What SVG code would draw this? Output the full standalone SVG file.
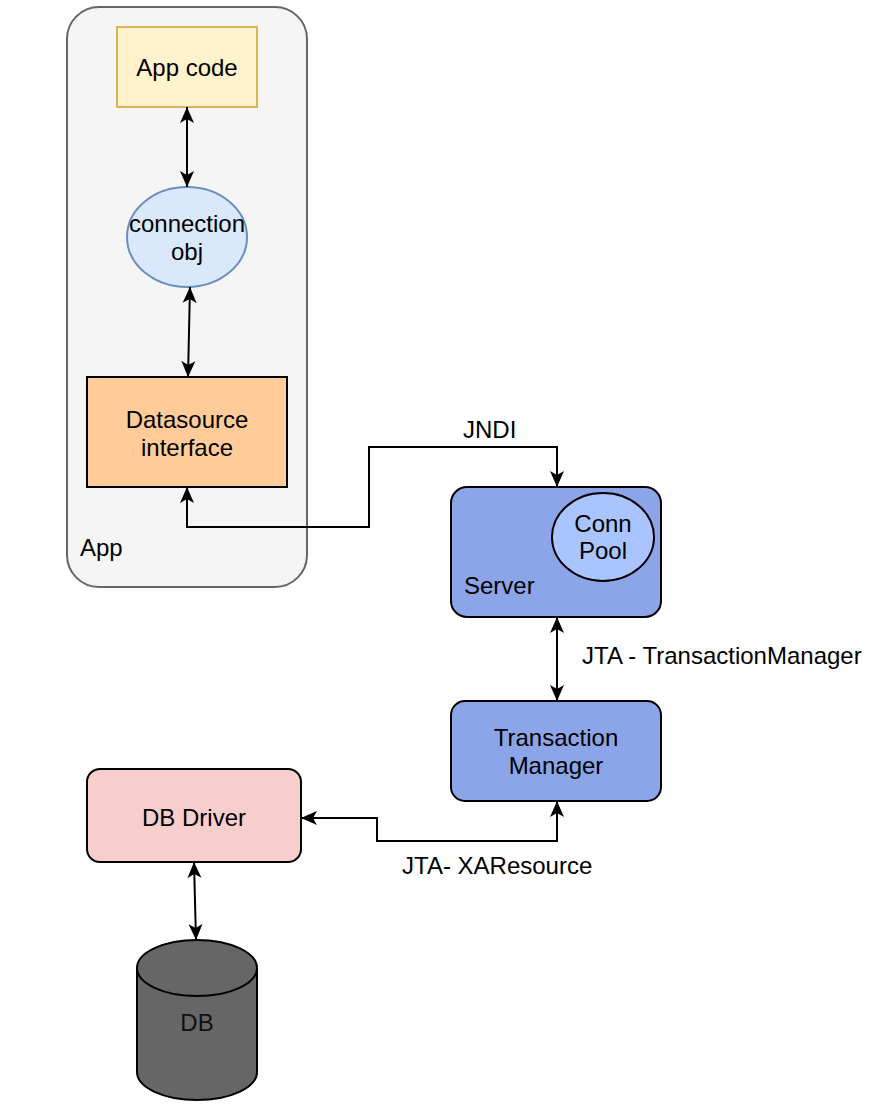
<svg xmlns="http://www.w3.org/2000/svg" width="880" height="1112" viewBox="0 0 880 1112">
<style>
text{font-family:"Liberation Sans",Arial,Helvetica,sans-serif;font-size:24px;fill:#000}
.c{text-anchor:middle}
.n{stroke:#000;stroke-width:2}
.e{fill:none;stroke:#000;stroke-width:2}
</style>
<defs>
<marker id="a" markerUnits="userSpaceOnUse" markerWidth="17" markerHeight="15" refX="16" refY="7.5" orient="auto-start-reverse">
<path d="M0,0.5 L16,7.5 L0,14.5 L4,7.5 z" fill="#000"/>
</marker>
</defs>
<rect width="880" height="1112" fill="#fff"/>
<g id="app">
<rect x="67" y="7" width="240" height="580" rx="32" fill="#f5f5f5" stroke="#666" stroke-width="2"/>
<text x="80" y="556">App</text>
</g>
<g id="appcode">
<rect x="117" y="27" width="140" height="80" fill="#fff2cc" stroke="#d6b656" stroke-width="2"/>
<text class="c" x="187" y="76">App code</text>
</g>
<g id="connobj">
<ellipse cx="187" cy="237" rx="60" ry="50" fill="#dae8fc" stroke="#6c8ebf" stroke-width="2"/>
<text class="c" x="187" y="232">connection</text>
<text class="c" x="187" y="260">obj</text>
</g>
<g id="datasource">
<rect class="n" x="87" y="377" width="200" height="110" fill="#ffcc99"/>
<text class="c" x="187" y="428">Datasource</text>
<text class="c" x="187" y="456">interface</text>
</g>
<g id="server">
<rect class="n" x="451" y="487" width="210" height="130" rx="16" fill="#8ca5e8"/>
<ellipse class="n" cx="603" cy="537" rx="51" ry="44" fill="#a9c4ff"/>
<text class="c" x="603" y="532">Conn</text>
<text class="c" x="603" y="559">Pool</text>
<text x="464" y="594">Server</text>
</g>
<g id="tm">
<rect class="n" x="451" y="701" width="210" height="100" rx="14" fill="#8ca5e8"/>
<text class="c" x="556" y="746">Transaction</text>
<text class="c" x="556" y="774">Manager</text>
</g>
<g id="dbdriver">
<rect class="n" x="87" y="769" width="214" height="93" rx="13" fill="#f8cecc"/>
<text class="c" x="194" y="826">DB Driver</text>
</g>
<g id="db">
<path class="n" d="M137,968 a60,28 0 0,1 120,0 v104 a60,28 0 0,1 -120,0 z" fill="#666"/>
<path class="n" d="M137,968 a60,28 0 0,0 120,0" fill="none"/>
<text class="c" x="197" y="1031" style="fill:#111">DB</text>
</g>
<g id="connectors">
<line class="e" x1="187" y1="107" x2="187" y2="187" marker-start="url(#a)" marker-end="url(#a)"/>
<line class="e" x1="190" y1="287" x2="188" y2="377" marker-start="url(#a)" marker-end="url(#a)"/>
<polyline class="e" points="187,487 187,527 369,527 369,447 557,447 557,487" marker-start="url(#a)" marker-end="url(#a)"/>
<line class="e" x1="557" y1="617" x2="557" y2="701" marker-start="url(#a)" marker-end="url(#a)"/>
<polyline class="e" points="557,801 557,841 377,841 377,818 301,818" marker-start="url(#a)" marker-end="url(#a)"/>
<line class="e" x1="194" y1="862" x2="196" y2="940" marker-start="url(#a)" marker-end="url(#a)"/>
<text x="463" y="438">JNDI</text>
<text x="582" y="664">JTA - TransactionManager</text>
<text x="402" y="874">JTA- XAResource</text>
</g>
</svg>
